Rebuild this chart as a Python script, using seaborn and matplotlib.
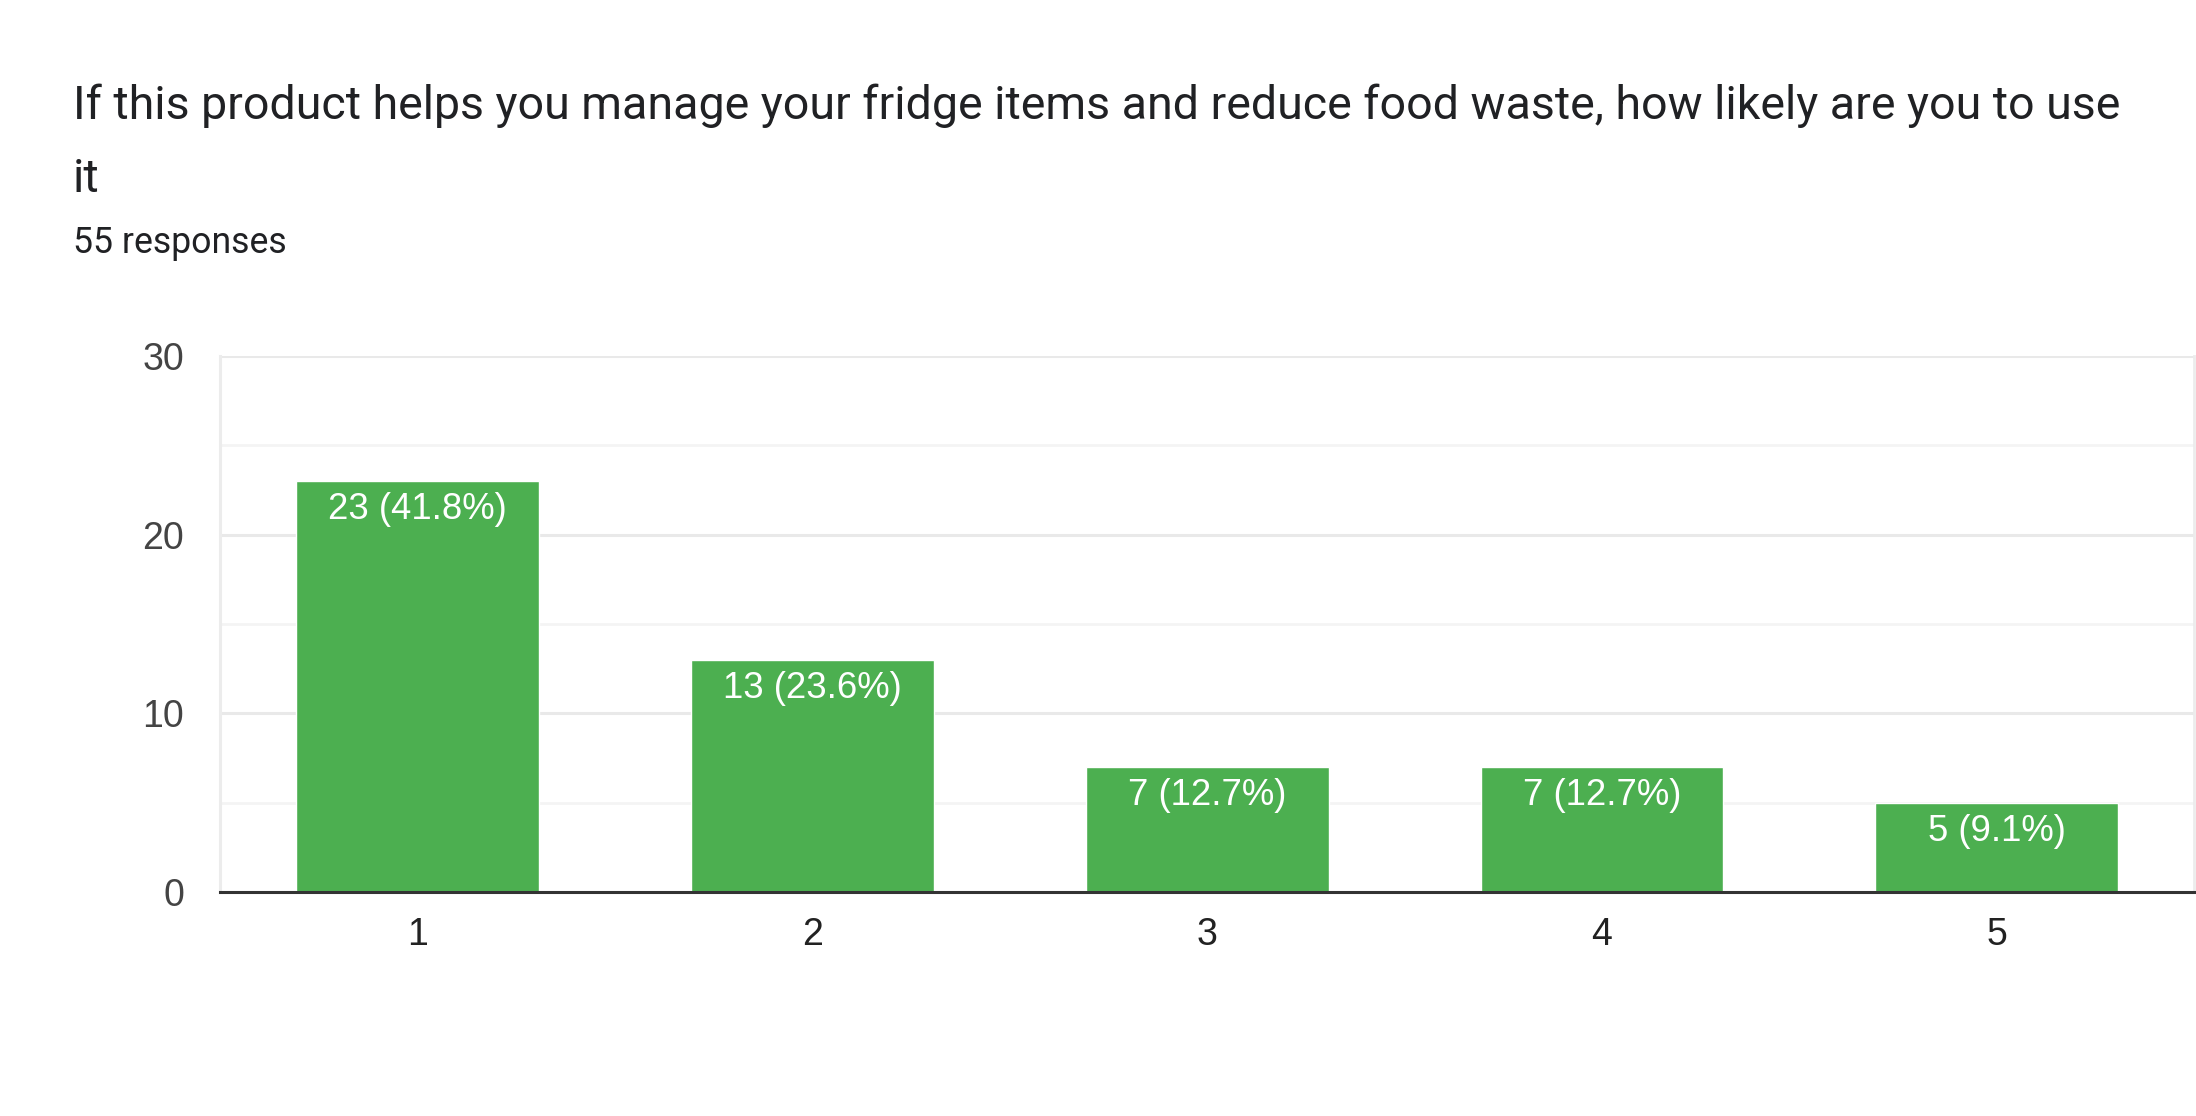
import pandas as pd
import seaborn as sb
import matplotlib.pyplot as plt
from matplotlib.ticker import MultipleLocator

# survey answers
ratings = ['1', '2', '3', '4', '5']
counts = [23, 13, 7, 7, 5]
percents = [41.8, 23.6, 12.7, 12.7, 9.1]

title_line1 = 'If this product helps you manage your fridge items and reduce food waste, how likely are you to use'
title_line2 = 'it'
subtitle = '55 responses'

df = pd.DataFrame({'rating': ratings, 'count': counts, 'pct': percents})

sb.set_style('white')
plt.rcParams['font.family'] = ['Liberation Sans', 'DejaVu Sans']

fig = plt.figure(figsize=(21.96, 11.16), dpi=100)
ax = fig.add_axes([0.1002, 0.2007, 0.8990, 0.4803])

sb.barplot(data=df, x='rating', y='count', color='#4CAF50', width=0.615,
           saturation=1, ax=ax, zorder=3)

ax.set_ylim(0, 30)
ax.set_xlim(-0.5, 4.5)
ax.yaxis.set_major_locator(MultipleLocator(10))
ax.yaxis.set_minor_locator(MultipleLocator(5))
ax.grid(axis='y', which='major', color='#e9e9e9', linewidth=2.2, zorder=0)
ax.grid(axis='y', which='minor', color='#f4f4f4', linewidth=2.0, zorder=0)
ax.set_axisbelow(True)

ax.spines['top'].set_visible(False)
ax.spines['left'].set_color('#ececec')
ax.spines['left'].set_linewidth(2.2)
ax.spines['right'].set_color('#ececec')
ax.spines['right'].set_linewidth(2.0)
ax.spines['bottom'].set_color('#333333')
ax.spines['bottom'].set_linewidth(2.2)
ax.spines['bottom'].set_zorder(5)

ax.tick_params(axis='y', which='both', length=0, pad=26, labelsize=27, labelcolor='#444444')
ax.tick_params(axis='x', length=0, pad=18, labelsize=27, labelcolor='#222222')
ax.set_xlabel('')
ax.set_ylabel('')

for i, (c, p) in enumerate(zip(counts, percents)):
    ax.annotate(f'{c} ({p}%)', xy=(i, c), xytext=(0, -20.5), textcoords='offset points',
                ha='center', va='center', color='white', fontsize=26.3, zorder=6)

fig.text(73 / 2196, 1 - 106 / 1116, title_line1, family=['Roboto', 'DejaVu Sans'],
         fontsize=33.5, color='#202124', va='center', ha='left')
fig.text(73 / 2196, 1 - 179 / 1116, title_line2, family=['Roboto', 'DejaVu Sans'],
         fontsize=33.5, color='#202124', va='center', ha='left')
fig.text(73 / 2196, 1 - 243 / 1116, subtitle, family=['Roboto', 'DejaVu Sans'],
         fontsize=25.7, color='#202124', va='center', ha='left')

fig.savefig('out.png', dpi=100, facecolor='white')
